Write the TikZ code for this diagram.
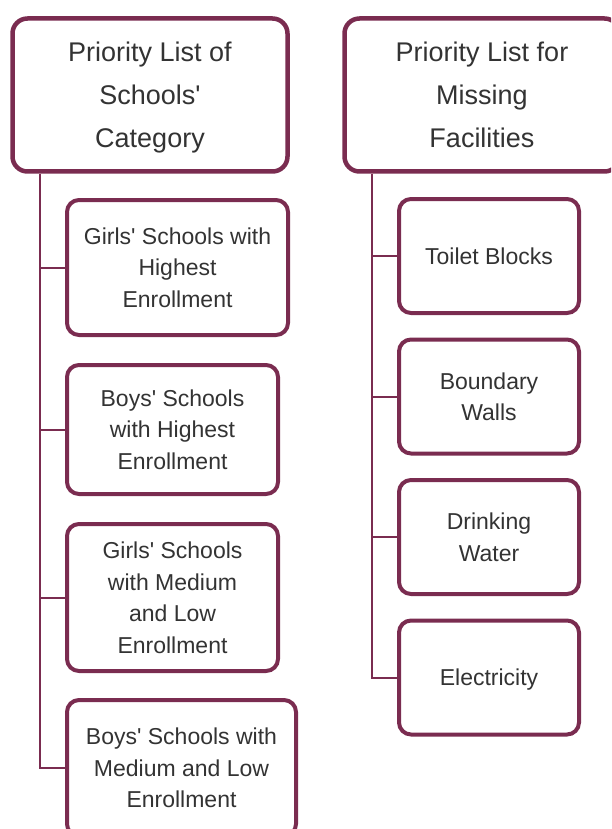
\documentclass[tikz,border=0pt]{standalone}
\usepackage{fontspec}
\setmainfont{Liberation Sans}
\definecolor{rahmen}{RGB}{122,44,80}
\definecolor{schrift}{RGB}{51,51,51}
\newcommand{\apo}{\textquotesingle}
\tikzset{
	kopf/.style={draw=rahmen, line width=4.5pt, rounded corners=15pt, fill=white,
		minimum width=275pt, minimum height=153pt, inner sep=0pt, align=center,
		text=schrift, text depth=-7pt, font=\fontsize{27}{43}\selectfont},
	eintrag/.style={draw=rahmen, line width=4pt, rounded corners=12pt, fill=white,
		inner sep=0pt, align=center, text=schrift, text depth=-2pt,
		font=\fontsize{23}{31.5}\selectfont},
	verbindung/.style={draw=rahmen, line width=2pt}
}
\begin{document}
\begin{tikzpicture}[x=1pt,y=-1pt]
		
		% Rahmen des Bildes
		\useasboundingbox (0,0) rectangle (611,829);
		\clip (0,0) rectangle (611,829);
		
		% Kopfknoten
		\node[kopf] (schulen) at (150,95) {Priority List of\\Schools\apo\\Category};
		\node[kopf] (ausstattung) at (482,95) {Priority List for\\Missing\\Facilities};
		
		% Linke Spalte
		\node[eintrag, minimum width=221pt, minimum height=135pt] (s1) at (177.5,267.5) {Girls\apo\ Schools with\\Highest\\Enrollment};
		\node[eintrag, minimum width=211pt, minimum height=129pt] (s2) at (172.5,429.5) {Boys\apo\ Schools\\with Highest\\Enrollment};
		\node[eintrag, minimum width=211pt, minimum height=147pt] (s3) at (172.5,597.5) {Girls\apo\ Schools\\with Medium\\and Low\\Enrollment};
		\node[eintrag, minimum width=229pt, minimum height=136pt] (s4) at (181.5,768) {Boys\apo\ Schools with\\Medium and Low\\Enrollment};
		
		% Rechte Spalte
		\node[eintrag, minimum width=180pt, minimum height=114pt] (f1) at (489,256) {Toilet Blocks};
		\node[eintrag, minimum width=180pt, minimum height=114pt] (f2) at (489,396.5) {Boundary\\Walls};
		\node[eintrag, minimum width=180pt, minimum height=114pt] (f3) at (489,537) {Drinking\\Water};
		\node[eintrag, minimum width=180pt, minimum height=114pt] (f4) at (489,677.5) {Electricity};
		
		% Verbindungen links
		\coordinate (tl) at (40,0);
		\draw[verbindung] (tl |- schulen.south) |- (s4.west);
		\foreach \n in {s1,s2,s3}
			\draw[verbindung] (tl |- \n.west) -- (\n.west);
		
		% Verbindungen rechts
		\coordinate (tr) at (372,0);
		\draw[verbindung] (tr |- ausstattung.south) |- (f4.west);
		\foreach \n in {f1,f2,f3}
			\draw[verbindung] (tr |- \n.west) -- (\n.west);
		
	\end{tikzpicture}
\end{document}
